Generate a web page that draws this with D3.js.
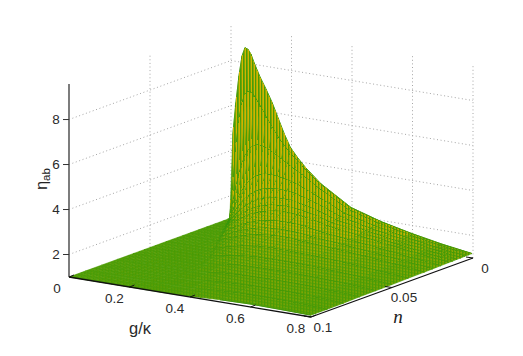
<!DOCTYPE html>
<html><head><meta charset="utf-8">
<script src="https://cdn.jsdelivr.net/npm/d3@7/dist/d3.min.js"></script>
<style>html,body{margin:0;padding:0;background:#fff}svg{display:block}</style></head>
<body><svg id="c" width="523" height="356"></svg>
<script>
const gValues=[0,.01,.02,.03,.04,.05,.06,.07,.08,.1,.12,.14,.16,.18,.2,.225,.25,.3,.35,.4,.5,.6,.7,.8];
const nValues=[.0007,.001,.0025,.005,.0075,.01,.0125,.015,.02,.025,.03,.04,.05,.06,.07,.08,.09,.1];
const etaRows=[
[1,4.8,6.2,7.4,8.3,8.7,8.65,8.45,8.1,7.5,7.0,6.45,5.8,5.15,4.6,4.18,3.82,3.22,2.8,2.38,1.97,1.67,1.42,1.22],
[1,2.24,3.98,5.29,6.14,6.6,6.78,6.78,6.67,6.27,5.82,5.39,5.0,4.66,4.37,4.06,3.75,3.2,2.78,2.36,1.97,1.66,1.41,1.22],
[1,1.06,1.84,2.53,3.13,3.6,3.96,4.22,4.39,4.54,4.51,4.4,4.24,4.07,3.91,3.71,3.52,3.09,2.71,2.33,1.94,1.65,1.41,1.21],
[1,1,1.06,1.44,1.8,2.13,2.41,2.65,2.85,3.14,3.32,3.39,3.4,3.38,3.33,3.25,3.14,2.85,2.55,2.23,1.89,1.62,1.39,1.21],
[1,1,1,1.06,1.31,1.55,1.77,1.97,2.15,2.44,2.64,2.78,2.86,2.9,2.91,2.89,2.85,2.65,2.42,2.15,1.84,1.6,1.38,1.2],
[1,1,1,1,1.06,1.25,1.43,1.59,1.74,2.01,2.21,2.37,2.48,2.55,2.59,2.61,2.6,2.48,2.3,2.06,1.8,1.57,1.37,1.2],
[1,1,1,1,1,1.06,1.21,1.35,1.48,1.72,1.91,2.07,2.19,2.28,2.34,2.38,2.4,2.33,2.19,1.99,1.76,1.55,1.36,1.19],
[1,1,1,1,1,1,1.06,1.18,1.3,1.51,1.69,1.85,1.97,2.07,2.13,2.2,2.24,2.2,2.09,1.92,1.72,1.53,1.35,1.19],
[1,1,1,1,1,1,1,1,1.06,1.23,1.39,1.53,1.65,1.75,1.83,1.91,1.96,1.98,1.93,1.8,1.65,1.49,1.32,1.18],
[1,1,1,1,1,1,1,1,1,1.05,1.19,1.32,1.43,1.52,1.61,1.7,1.76,1.81,1.79,1.7,1.59,1.45,1.31,1.17],
[1,1,1,1,1,1,1,1,1,1,1.05,1.17,1.27,1.36,1.44,1.53,1.6,1.67,1.68,1.62,1.53,1.42,1.29,1.16],
[1,1,1,1,1,1,1,1,1,1,1,1,1.05,1.13,1.21,1.29,1.36,1.46,1.49,1.47,1.44,1.36,1.25,1.15],
[1,1,1,1,1,1,1,1,1,1,1,1,1,1,1.05,1.13,1.2,1.3,1.35,1.36,1.36,1.31,1.22,1.13],
[1,1,1,1,1,1,1,1,1,1,1,1,1,1,1,1.01,1.07,1.18,1.25,1.27,1.29,1.26,1.2,1.12],
[1,1,1,1,1,1,1,1,1,1,1,1,1,1,1,1,1,1.08,1.16,1.19,1.23,1.22,1.17,1.11],
[1,1,1,1,1,1,1,1,1,1,1,1,1,1,1,1,1,1.01,1.09,1.13,1.18,1.19,1.15,1.09],
[1,1,1,1,1,1,1,1,1,1,1,1,1,1,1,1,1,1,1.02,1.08,1.14,1.16,1.13,1.08],
[1,1,1,1,1,1,1,1,1,1,1,1,1,1,1,1,1,1,1,1.03,1.1,1.13,1.11,1.08]];
const gTicks=[0,.2,.4,.6,.8];
const nTicks=[0,.05,.1];
const etaTicks=[2,4,6,8];
const etaFloor=1, etaTop=9.58;

const svg=d3.select("#c");
const gx=d3.scaleLinear().domain([0,.8]).range([231,473]);
const gy=d3.scaleLinear().domain([0,.8]).range([0,40]);
const nx=d3.scaleLinear().domain([0,.1]).range([0,-162]);
const ny=d3.scaleLinear().domain([0,.1]).range([218,277]);
const ey=d3.scaleLinear().domain([etaFloor,etaTop]).range([0,-193]);
const P=(g,n,e)=>[gx(g)+nx(n),gy(g)+ny(n)+ey(e)];

// mesh textures
const defs=svg.append("defs");
function pat(id,w,h,rects,tf){
  const p=defs.append("pattern").attr("id",id).attr("patternUnits","userSpaceOnUse").attr("width",w).attr("height",h);
  if(tf)p.attr("patternTransform",tf);
  rects.forEach(r=>p.append("rect").attr("x",r[0]).attr("y",r[1]).attr("width",r[2]).attr("height",r[3]).attr("fill",r[4]));
}
const BASE="#4a9c06";
pat("stripes",3,3,[[1.3,0,1.7,3,"#d2b400"]]);
pat("bars",3,3,[[0,0,3,1.3,BASE]],"skewY(9.4)");

// walls
const grid=svg.append("g").attr("fill","none").attr("stroke","#a6a6a6").attr("stroke-width",1).attr("stroke-dasharray","1 2.6");
const seg=(a,b)=>grid.append("path").attr("d",d3.line()([a,b]));
etaTicks.forEach(e=>{seg(P(0,.1,e),P(0,0,e));seg(P(0,0,e),P(.8,0,e));});
seg(P(0,.05,etaFloor),P(0,.05,etaTop));
gTicks.forEach(g=>seg(P(g,0,etaFloor),P(g,0,etaTop)));

// surface, back to front
const surf=svg.append("g");
const line=d3.line();
const rowLine=d3.line().defined(d=>d[2]>1.04).x(d=>d[0]).y(d=>d[1]);
const yellow=d3.scaleLinear().domain([0,.25,.8]).range([.13,.5,1]).clamp(true);
const barsOp=d3.scaleLinear().domain([0,1.6]).range([.9,0]).clamp(true);
etaRows.forEach((row,i)=>{
  if(i>0){
    const prev=etaRows[i-1];
    for(let j=0;j<gValues.length-1;j++){
      const pts=[P(gValues[j],nValues[i-1],prev[j]),P(gValues[j+1],nValues[i-1],prev[j+1]),
                 P(gValues[j+1],nValues[i],row[j+1]),P(gValues[j],nValues[i],row[j])];
      const d=line(pts)+"Z";
      const f=d3.mean([prev[j],prev[j+1],row[j],row[j+1]])-etaFloor;
      surf.append("path").attr("d",d).attr("fill",BASE).attr("stroke",BASE).attr("stroke-width",.6);
      surf.append("path").attr("d",d).attr("fill","url(#stripes)").attr("fill-opacity",yellow(f)).attr("shape-rendering","crispEdges");
      if(barsOp(f)>0)surf.append("path").attr("d",d).attr("fill","url(#bars)").attr("fill-opacity",barsOp(f)).attr("shape-rendering","crispEdges");
    }
  }
  surf.append("path").attr("d",rowLine(row.map((e,j)=>[...P(gValues[j],nValues[i],e),e])))
    .attr("fill","none").attr("stroke","#3f950a").attr("stroke-width",i==0?.8:.95);
});
// crease where the surface lifts off the floor
const crease=[];
etaRows.forEach((row,i)=>{const j=row.findIndex((e,k)=>k>0&&e>1);if(i>1&&j>0&&nValues[i]<=.06)crease.push(P(gValues[j],nValues[i],row[j]));});
d3.pairs(crease).forEach((s,i)=>surf.append("path").attr("d",line(s)).attr("fill","none").attr("stroke","#2f960f").attr("stroke-width",2.4).attr("opacity",.75-i*.07));

// axes
const ax=svg.append("g").attr("fill","none");
const L=(a,b,c,w)=>ax.append("path").attr("d",d3.line()([a,b])).attr("stroke",c).attr("stroke-width",w);
L(P(0,.1,etaFloor),P(0,.1,etaTop),"#5c5c5c",1.6);
L(P(0,.1,etaFloor),P(.8,.1,etaFloor),"#111",1.3);
L(P(.8,.1,etaFloor),P(.8,0,etaFloor),"#111",1.3);
etaTicks.forEach(e=>{const p=P(0,.1,e);L([p[0]-6,p[1]],p,"#333",1);});
gTicks.forEach(g=>{const p=P(g,.1,etaFloor);L(p,[p[0]+5,p[1]-2],"#111",1);});
nTicks.forEach(n=>{const p=P(.8,n,etaFloor);L([p[0]-7,p[1]-1],p,"#111",1);});

// text
const T=svg.append("g").attr("font-family","'Liberation Sans',Arial,sans-serif").attr("font-size",13.5).attr("fill","#2a2a2a").attr("text-anchor","middle");
const lab=(x,y,s)=>T.append("text").attr("x",x).attr("y",y).attr("dy","0.35em").text(s);
gTicks.forEach(g=>{const p=P(g,.1,etaFloor);lab(p[0]-(g===0?12:15),p[1]+11,g===0?"0":d3.format(".1f")(g));});
nTicks.forEach(n=>{const p=P(.8,n,etaFloor);lab(p[0]+12,p[1]+10,n===0?"0":String(n));});
etaTicks.forEach(e=>{const p=P(0,.1,e);lab(p[0]-13,p[1],String(e));});
T.append("text").attr("x",140).attr("y",334).attr("font-size",16.5).text("g/κ");
svg.append("text").attr("x",398).attr("y",323).attr("text-anchor","middle").attr("font-family","'Liberation Serif',serif").attr("font-style","italic").attr("font-size",19).attr("fill","#222").text("n");
const yl=svg.append("text").attr("transform","translate(47,179) rotate(-90)").attr("text-anchor","middle").attr("font-family","'Liberation Sans',Arial,sans-serif").attr("fill","#222");
yl.append("tspan").attr("font-size",16).text("η");
yl.append("tspan").attr("font-size",11.5).attr("dy",3).text("ab");
</script></body></html>
